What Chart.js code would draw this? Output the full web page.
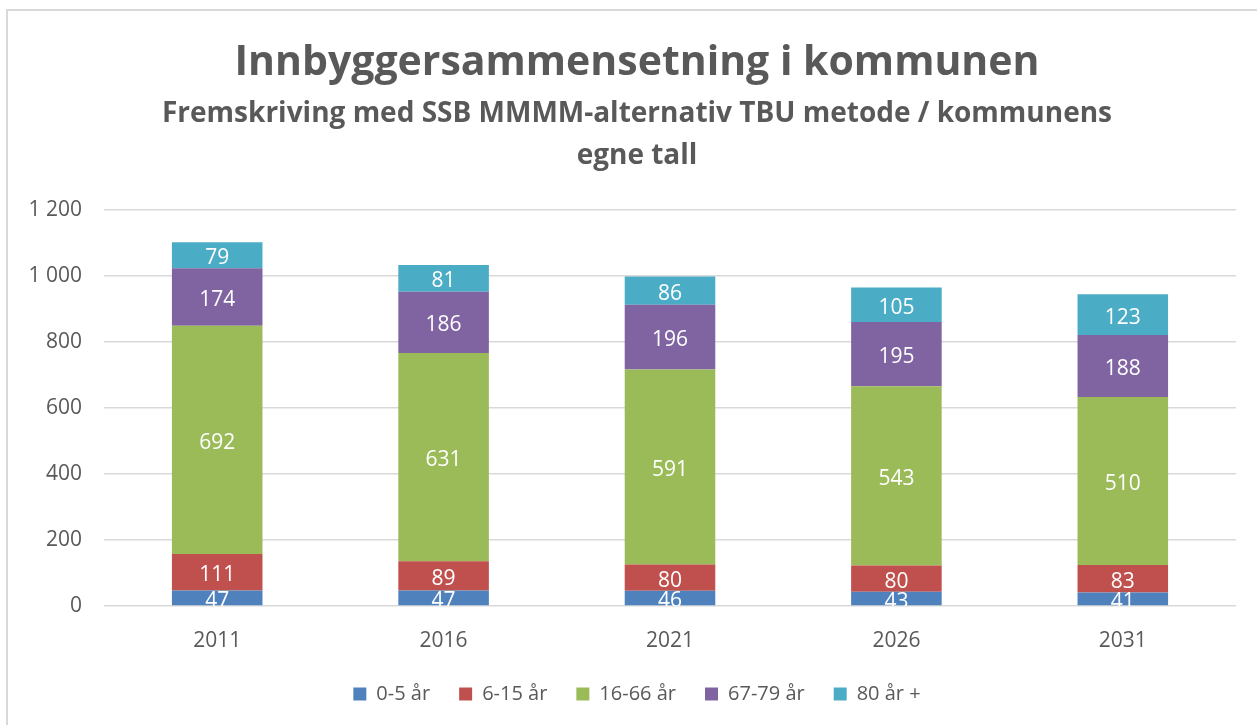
<!DOCTYPE html>
<html>
<head>
<meta charset="utf-8">
<script src="https://cdn.jsdelivr.net/npm/chart.js@4/dist/chart.umd.min.js"></script>
<style>
  html, body { margin: 0; padding: 0; background: #fff; }
  #wrap { position: relative; width: 1257px; height: 725px; }
</style>
</head>
<body>
<div id="wrap"><canvas id="popChart" width="1257" height="725"></canvas></div>
<script>
// Data
const years = ['2011', '2016', '2021', '2026', '2031'];
const groups = ['0-5 år', '6-15 år', '16-66 år', '67-79 år', '80 år +'];
const age0to5 = [47, 47, 46, 43, 41];
const age6to15 = [111, 89, 80, 80, 83];
const age16to66 = [692, 631, 591, 543, 510];
const age67to79 = [174, 186, 196, 195, 188];
const age80plus = [79, 81, 86, 105, 123];
const colors = ['#4f81bd', '#c0504d', '#9bbb59', '#8064a2', '#4bacc6'];

const series = [age0to5, age6to15, age16to66, age67to79, age80plus];
const fontFam = '"Open Sans", Lato, sans-serif';
const textGray = '#595959';

// space as thousands separator, like the original
const fmt = v => String(v).replace(/\B(?=(\d{3})+(?!\d))/g, ' ');

// white value labels in the middle of each segment
const segmentLabels = {
  id: 'segmentLabels',
  afterDatasetsDraw(chart) {
    const ctx = chart.ctx;
    const area = chart.chartArea;
    ctx.save();
    ctx.beginPath();
    ctx.rect(area.left, area.top, area.right - area.left, area.bottom - area.top);
    ctx.clip();
    ctx.fillStyle = '#ffffff';
    ctx.font = '21px ' + fontFam;
    ctx.textAlign = 'center';
    ctx.textBaseline = 'middle';
    chart.data.datasets.forEach((ds, i) => {
      chart.getDatasetMeta(i).data.forEach((bar, j) => {
        const mid = (bar.y + bar.base) / 2 + 3; // digits sit a bit low in the original
        ctx.fillText(fmt(ds.data[j]), bar.x, mid);
      });
    });
    ctx.restore();
  }
};

// light frame of the chart object (left and top edges visible)
const frame = {
  id: 'frame',
  beforeDraw(chart) {
    const ctx = chart.ctx;
    ctx.save();
    ctx.strokeStyle = '#d9d9d9';
    ctx.lineWidth = 2;
    ctx.beginPath();
    ctx.moveTo(7, chart.height);
    ctx.lineTo(7, 10);
    ctx.lineTo(chart.width, 10);
    ctx.stroke();
    ctx.restore();
  }
};

const ctx = document.getElementById('popChart').getContext('2d');
new Chart(ctx, {
  type: 'bar',
  data: {
    labels: years,
    datasets: groups.map((g, i) => ({
      label: g,
      data: series[i],
      backgroundColor: colors[i],
      borderWidth: 0,
      barPercentage: 0.4,
      categoryPercentage: 1
    }))
  },
  options: {
    responsive: false,
    animation: false,
    layout: {
      padding: { left: 38, right: 21, top: 0, bottom: 11 }
    },
    scales: {
      x: {
        stacked: true,
        grid: { display: false, drawTicks: false },
        border: { display: false },
        ticks: {
          color: textGray,
          padding: 22,
          font: { family: fontFam, size: 21 }
        },
        afterFit(scale) { scale.height = 49; }
      },
      y: {
        stacked: true,
        min: 0,
        max: 1200,
        grid: {
          color: '#d9d9d9',
          lineWidth: 1.5,
          drawTicks: false
        },
        border: { display: false },
        ticks: {
          stepSize: 200,
          color: textGray,
          padding: 22,
          font: { family: fontFam, size: 21 },
          callback: v => fmt(v)
        },
        afterFit(scale) {
          scale.width = 66;
          // narrow axis box, so don't clip "1 200" to it
          scale._computeLabelArea = () => null;
        }
      }
    },
    plugins: {
      title: {
        display: true,
        text: 'Innbyggersammensetning i kommunen',
        color: textGray,
        font: { family: fontFam, size: 41, weight: 'bold' },
        padding: { top: 39, bottom: 5 }
      },
      subtitle: {
        display: true,
        text: ['Fremskriving med SSB MMMM-alternativ TBU metode / kommunens', 'egne tall'],
        color: textGray,
        font: { family: fontFam, size: 28, weight: 'bold', lineHeight: 1.5 },
        padding: { top: 0, bottom: 33 }
      },
      legend: {
        position: 'bottom',
        labels: {
          color: textGray,
          boxWidth: 13,
          boxHeight: 13,
          padding: 29,
          font: { family: fontFam, size: 20 }
        }
      },
      tooltip: { enabled: false }
    }
  },
  plugins: [frame, segmentLabels]
});
</script>
</body>
</html>
